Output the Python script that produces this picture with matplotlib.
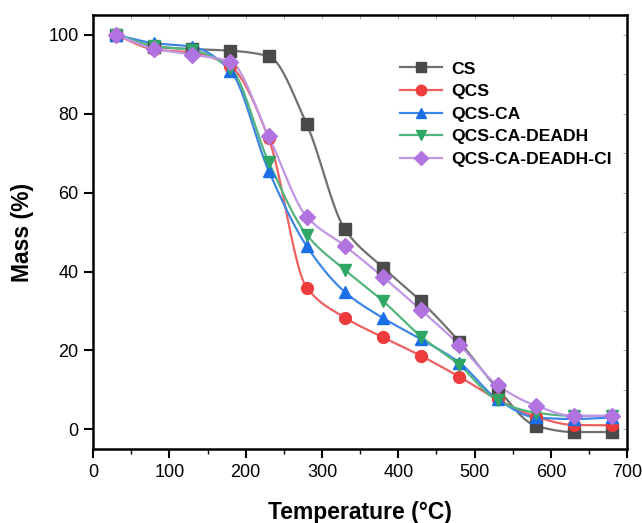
import numpy as np
import matplotlib
matplotlib.use("Agg")
import matplotlib.pyplot as plt
from matplotlib.ticker import MultipleLocator

temperature = [30, 80, 130, 180, 230, 280, 330, 380, 430, 480, 530, 580, 630, 680]
cs = [100, 97.0, 96.4, 96.0, 94.6, 77.3, 50.7, 41.0, 32.4, 22.2, 10.3, 0.9, -0.7, -0.7]
qcs = [100, 96.3, 95.5, 92.0, 73.8, 35.9, 28.3, 23.3, 18.6, 13.3, 7.6, 3.2, 1.1, 1.0]
qcs_ca = [100, 97.9, 97.0, 90.9, 65.6, 46.4, 34.8, 28.2, 22.8, 16.9, 7.6, 3.0, 2.6, 3.0]
qcs_ca_deadh = [100, 97.2, 96.1, 91.6, 67.8, 49.3, 40.4, 32.5, 23.5, 16.3, 7.3, 4.2, 3.4, 3.4]
qcs_ca_deadh_ci = [100, 96.5, 95.0, 93.2, 74.3, 53.9, 46.5, 38.6, 30.2, 21.4, 11.2, 6.0, 3.4, 3.4]
series_names = ["CS", "QCS", "QCS-CA", "QCS-CA-DEADH", "QCS-CA-DEADH-CI"]


def pchip(x, y, xn):
    x = np.asarray(x, float); y = np.asarray(y, float)
    h = np.diff(x); d = np.diff(y) / h
    n = len(x); m = np.zeros(n)
    for k in range(1, n - 1):
        if d[k - 1] * d[k] > 0:
            w1 = 2 * h[k] + h[k - 1]; w2 = h[k] + 2 * h[k - 1]
            m[k] = (w1 + w2) / (w1 / d[k - 1] + w2 / d[k])
    m[0] = d[0]; m[-1] = d[-1]
    idx = np.clip(np.searchsorted(x, xn) - 1, 0, n - 2)
    t = (xn - x[idx]) / h[idx]
    h00 = 2 * t**3 - 3 * t**2 + 1; h10 = t**3 - 2 * t**2 + t
    h01 = -2 * t**3 + 3 * t**2; h11 = t**3 - t**2
    return h00 * y[idx] + h10 * h[idx] * m[idx] + h01 * y[idx + 1] + h11 * h[idx] * m[idx + 1]


plt.rcParams['font.family'] = ['Liberation Sans', 'DejaVu Sans']
fig = plt.figure(figsize=(6.42, 5.23), dpi=100)
ax = fig.add_axes([0.145, 0.1415, 0.832, 0.8295])

styles = [
    (cs, "s", "#4a4a4a", "#707070"),
    (qcs, "o", "#ee3b3b", "#f06060"),
    (qcs_ca, "^", "#1a6fe6", "#3d85e8"),
    (qcs_ca_deadh, "v", "#2ea765", "#52b57e"),
    (qcs_ca_deadh_ci, "D", "#b173e0", "#c096e6"),
]
xs = np.linspace(temperature[0], temperature[-1], 1000)
for (vals, mk, mc, lc), name in zip(styles, series_names):
    ax.plot(xs, pchip(temperature, vals, xs), color=lc, lw=1.6, zorder=2)
    ax.plot(temperature, vals, linestyle="none", marker=mk, color=mc,
            markersize=8.5 if mk != "D" else 8, zorder=3)
    ax.plot([], [], color=lc, lw=1.6, marker=mk, markerfacecolor=mc,
            markeredgecolor=mc, markersize=7.5 if mk != "D" else 7, label=name)

ax.set_xlim(0, 700)
ax.set_ylim(-5, 105)
ax.xaxis.set_major_locator(MultipleLocator(100))
ax.xaxis.set_minor_locator(MultipleLocator(50))
ax.yaxis.set_major_locator(MultipleLocator(20))
ax.tick_params(axis="both", which="major", direction="out", length=6.5, width=1.5,
               labelsize=13, pad=4, top=False, right=False)
ax.tick_params(axis="x", which="minor", direction="out", length=3.5, width=1)
for s in ax.spines.values():
    s.set_linewidth(1.8)

sec_x = ax.secondary_xaxis("top")
sec_x.set_xticks(np.arange(0, 701, 50))
sec_x.tick_params(direction="in", length=3, width=0.6, labeltop=False, colors="#999999")
sec_x.spines["top"].set_visible(False)
sec_y = ax.secondary_yaxis("right")
sec_y.set_yticks(np.arange(0, 101, 10))
sec_y.tick_params(direction="in", length=3, width=0.6, labelright=False, colors="#999999")
sec_y.spines["right"].set_visible(False)

ax.set_xlabel("Temperature (°C)", fontsize=16.5, fontweight="bold")
ax.set_ylabel("Mass (%)", fontsize=16.5, fontweight="bold")
ax.xaxis.set_label_coords(0.5, (449 - 501) / 434)
ax.yaxis.set_label_coords((34 - 93) / 534, 0.5)

leg = ax.legend(loc="upper right", bbox_to_anchor=(1.0, 0.93), frameon=False,
                prop={"weight": "bold", "size": 12.6}, handlelength=2.4,
                handletextpad=0.5, labelspacing=0.42)

fig.savefig("out.png", dpi=100)
